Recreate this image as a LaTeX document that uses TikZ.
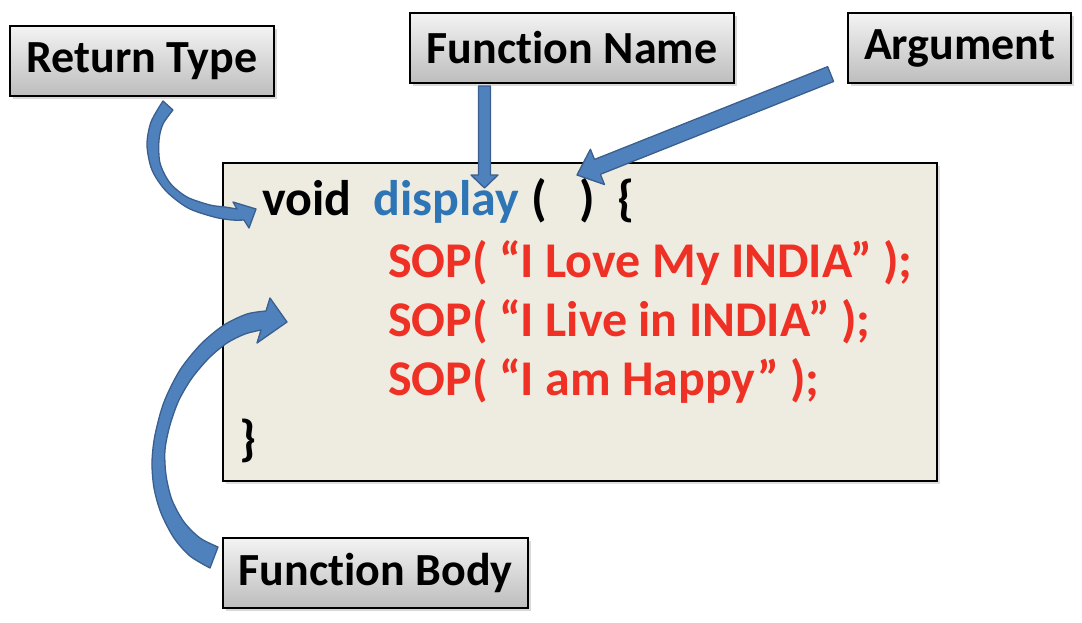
\documentclass[tikz,border=0pt]{standalone}
\usepackage{fontspec}
\setmainfont{Carlito}[RawFeature=-liga]
\usetikzlibrary{shadows}
\definecolor{boxbg}{HTML}{EEECE1}
\definecolor{dispblue}{HTML}{2E75B6}
\definecolor{codered}{HTML}{EE3124}
\definecolor{arrfill}{HTML}{4F81BD}
\definecolor{arrline}{HTML}{3A5F8E}
\definecolor{lbltop}{HTML}{F3F3F3}
\definecolor{lblbot}{HTML}{BDBDBD}
\newcommand\blockarrow[6]{%
  \begin{scope}[shift={(#1)}, rotate=#2]
    \filldraw[arrowshape] (0,0) -- (-#6,#5) -- (-#6,#4) -- (-#3,#4) -- (-#3,-#4) -- (-#6,-#4) -- (-#6,-#5) -- cycle;
  \end{scope}}
\begin{document}
\begin{tikzpicture}[x=1pt, y=-1pt,
  lbl/.style={draw=black, line width=2pt, top color=lbltop, bottom color=lblbot,
    inner sep=0pt, font=\bfseries\fontsize{46}{55}\selectfont,
    drop shadow={shadow xshift=2.5pt, shadow yshift=-3pt, opacity=0.3}},
  codebox/.style={draw=black, line width=2.5pt, fill=boxbg, inner sep=0pt,
    drop shadow={shadow xshift=2.5pt, shadow yshift=-3pt, opacity=0.25}},
  code/.style={anchor=base west, inner sep=0pt, font=\bfseries\fontsize{50}{60}\selectfont},
  arrowshape/.style={fill=arrfill, draw=arrline, line width=1.3pt, line join=round}]
\useasboundingbox (0,0) rectangle (1082,622);
% label boxes
\node[lbl, minimum width=264pt, minimum height=70pt] (rt) at (142,61) {Return Type};
\node[lbl, minimum width=324pt, minimum height=70pt] (fn) at (572,48) {Function Name};
\node[lbl, minimum width=223pt, minimum height=70pt] (arg) at (959.5,48) {Argument};
\node[lbl, minimum width=305pt, minimum height=70pt] (fb) at (375.5,573) {Function Body};
% code box
\node[codebox, minimum width=714pt, minimum height=318pt] (main) at (580,322) {};
\node[code] (void) at (262,215) {void};
\node[code, text=dispblue] (disp) at (373,215) {display};
\node[code] (lp) at (531,215) {(};
\node[code] (rp) at (579,215) {)};
\node[code] (lb) at (617,215) {\{};
\node[code, text=codered] (l1) at (388,277) {SOP( “I Love My INDIA” );};
\node[code, text=codered] (l2) at (388,336) {SOP( “I Live in INDIA” );};
\node[code, text=codered] (l3) at (388,395) {SOP( “I am Happy” );};
\node[code] (rb) at (239,455) {\}};
% straight block arrows
\coordinate (fntip) at (484.5,188);
\coordinate (argtip) at (577,175);
\blockarrow{fntip}{-90}{102}{6}{13.5}{13}
\blockarrow{argtip}{201.7}{273}{8}{19}{22}
% curved arrow: return type
\filldraw[arrowshape] plot[smooth] coordinates {(163,101) (151,122) (147,145) (152,170) (166,191) (188,208) (214,217) (232,220) (244,220)}
  -- (249,228) -- (256,209) -- (233,202)
  -- plot[smooth] coordinates {(237,209) (225,207) (210,205) (187,197) (170,183) (160,163) (159,140) (163,124) (173,110)} -- cycle;
% curved arrow: function body
\filldraw[arrowshape] plot[smooth] coordinates {(210,568) (190,556) (174,538) (161,513) (154,488) (152,462) (155,435) (164,402) (180,370) (201,344) (224,325) (247,314) (266,311)}
  -- (270,298) -- (287,322) -- (257,343)
  -- plot[smooth] coordinates {(261,330) (245,334) (227,343) (209,358) (192,378) (179,400) (170,425) (165,450) (166,475) (172,500) (184,522) (200,538) (218,547)} -- cycle;
\end{tikzpicture}
\end{document}
